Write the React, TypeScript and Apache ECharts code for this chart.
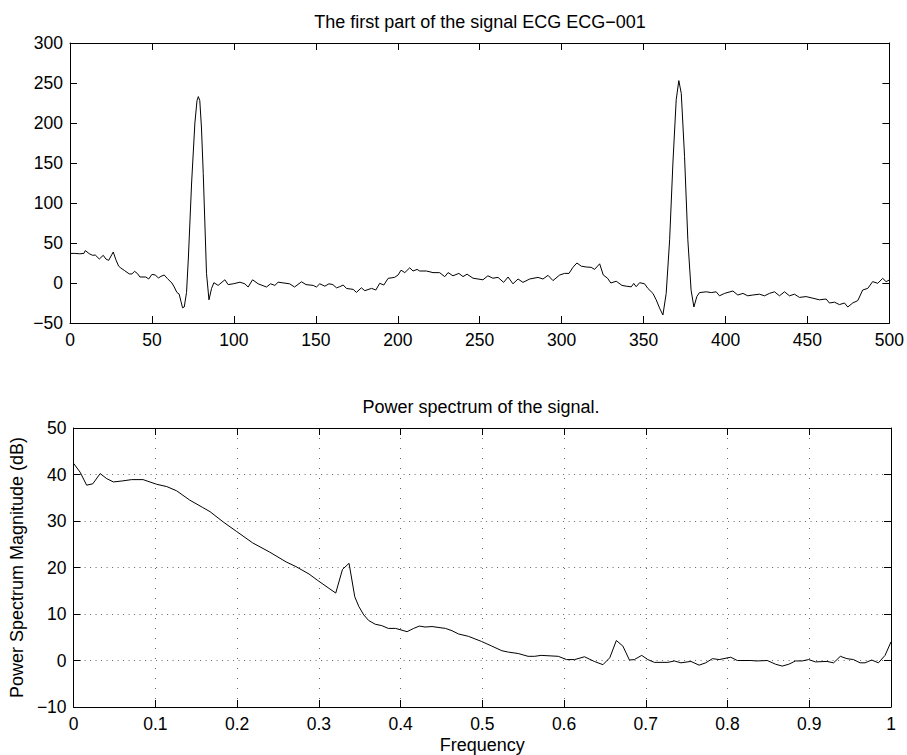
import React, { useEffect, useRef } from "react";
import * as echarts from "echarts";

// ---- Top plot: first part of ECG signal (sample index, amplitude) ----
const sigT = [
  0, 3, 6, 8.5, 9.3, 11.8, 13.8, 15.4, 17.9, 20.3, 21.9, 23.6, 26.4, 28, 29.7, 31, 33.1, 36.2, 37.8, 39.4,
  41.2, 42.7, 46.3, 48, 50, 52, 54, 55.5, 57.5, 59.5, 62.2, 63.6, 65.2, 66.6, 67.7, 68.7, 69.7, 71.1, 72.2, 74.2,
  76.2, 77.5, 78.3, 79.2, 80.2, 81.3, 83.3, 84.8, 86.4, 87.8, 90.4, 94.5, 96.5, 99.6, 103.7, 106.7, 108.7, 111.4, 114.8, 119.9,
  122.4, 125, 127, 134, 137, 141.3, 144, 148.4, 150.4, 152.4, 155.5, 158, 160.4, 162.6, 164.6, 166.7, 168.7, 172.8, 174.8, 177.8,
  179.9, 184, 186.6, 189, 191.5, 194.1, 198, 200.2, 202, 204.3, 207.3, 209.3, 211.8, 213.4, 217.5, 221.5, 225.6, 228.7, 230.7, 233.7,
  237.3, 239.8, 242.3, 245.9, 249, 252, 255, 258, 261.2, 264.6, 267.3, 270.3, 273.4, 276.4, 280.5, 285.6, 288.6, 291.7, 294.7, 298.8,
  301.8, 304.5, 306.9, 309.3, 312, 315, 318, 320.1, 323.2, 325.4, 328, 330, 333.3, 336.8, 339.4, 342.5, 344, 345.5, 347.6, 350.6,
  352.6, 355.7, 357.7, 359.8, 361.8, 363.8, 365.9, 367.9, 369.9, 371.5, 373, 375, 377, 379, 380.7, 382.5, 384.1, 388.2, 391.3, 394.3,
  396.3, 399.4, 404.5, 407.5, 410.6, 413.6, 416.7, 420.7, 423.8, 426.8, 429.9, 432.9, 436, 439, 442.1, 445.1, 449.2, 453.3, 457.3, 461.4,
  463.4, 466.5, 469.5, 472.6, 474.6, 477.6, 480.7, 483.7, 486.8, 489.8, 492.9, 495.9, 498, 500,
];
const sigV = [
  37, 37, 36.5, 37, 40.5, 36.6, 34.6, 35, 30, 34.6, 30, 28.3, 38.8, 29, 21, 18.8, 15.8, 11.3, 11.3, 14.6,
  11.7, 7.5, 7.5, 5, 10.8, 10, 6.3, 8.3, 10, 5.4, 0, -5, -11.7, -13.8, -22.9, -31, -30, -12, 30, 125,
  200, 228, 233, 228, 195, 137, 12, -21, -6.7, 0.4, -3, 4, -2, -1, 1, -1, -5, 4, -1, -5,
  -1, -3, 1, -1, -5, 1.5, -2, -3, -5, -1, -4, -1, -2, -6, -4.6, -2.5, -6.8, -8, -11.7, -6,
  -9.6, -6.7, -8.75, -0.4, -2.5, 5.8, 7, 10, 16, 13, 19, 15, 17, 15, 15, 13, 12.9, 7.9, 13, 9,
  12, 8, 11, 6, 5, 4, 9, 6, 7, 0.8, 7.5, -1, 5, 0.8, 5, 7, 5, 9.6, 3, 10,
  12, 12, 19.6, 25, 21, 20, 19.6, 17, 24, 10, 6, 0, 2.2, -3, -4, -4.8, -0.5, -4.6, 0.4, -1,
  -6.7, -13, -21, -31.6, -40, -13, 54, 150, 229, 253, 237, 158, 54, -9, -30, -17, -12, -11, -12, -11,
  -16, -13, -10, -15, -13, -16, -15, -14, -16, -13, -11, -16, -11, -16, -14, -18, -17, -19, -21, -20,
  -25, -24, -27, -25, -30, -25, -22, -8.75, -6.7, 1.7, -0.4, 5.8, 1.7, 3.8,
];

// ---- Bottom plot: power spectrum (normalized frequency, dB) ----
const freq = [
  0, 0.008, 0.016, 0.0235, 0.0325, 0.0406, 0.0487, 0.059, 0.071, 0.085, 0.1015, 0.114, 0.126, 0.142, 0.158, 0.167, 0.183, 0.199, 0.219, 0.24,
  0.26, 0.272, 0.288, 0.298, 0.3207, 0.329, 0.337, 0.344, 0.349, 0.355, 0.361, 0.369, 0.377, 0.385, 0.394, 0.408, 0.416, 0.423, 0.43, 0.4385,
  0.455, 0.463, 0.471, 0.483, 0.499, 0.5116, 0.524, 0.532, 0.544, 0.556, 0.564, 0.572, 0.593, 0.603, 0.613, 0.625, 0.637, 0.6476, 0.656, 0.664,
  0.672, 0.68, 0.686, 0.695, 0.7025, 0.7105, 0.727, 0.735, 0.743, 0.7552, 0.7653, 0.7734, 0.7816, 0.7897, 0.8039, 0.812, 0.828, 0.836, 0.8486, 0.8588,
  0.8669, 0.875, 0.8831, 0.8912, 0.8993, 0.9075, 0.9217, 0.9298, 0.938, 0.946, 0.954, 0.9622, 0.9683, 0.9764, 0.9846, 0.9927, 1,
];
const powerDb = [
  42.4, 40.5, 37.7, 38, 40.2, 39.1, 38.4, 38.6, 38.9, 38.9, 37.9, 37.4, 36.5, 34.5, 32.9, 32, 29.8, 27.8, 25.3, 23.3,
  21.2, 20.2, 18.6, 17.3, 14.5, 19.6, 20.9, 13.7, 11.6, 9.8, 8.6, 7.8, 7.5, 6.9, 6.9, 6.2, 6.9, 7.4, 7.2, 7.3,
  6.9, 6.4, 5.7, 5.2, 4.1, 3.1, 2.1, 1.8, 1.5, 0.9, 0.9, 1.1, 0.9, 0.2, 0.2, 0.8, -0.2, -0.9, 0.6, 4.3,
  3.1, 0.1, 0.2, 1.1, 0.2, -0.4, -0.4, -0.1, -0.5, -0.2, -1, -0.5, 0.4, 0.2, 0.7, 0, 0, -0.1, 0, -0.8,
  -1.2, -0.8, -0.1, -0.1, 0.2, -0.3, -0.2, -0.5, 0.9, 0.4, 0.2, -0.5, -0.5, 0.1, -0.5, 1.1, 4,
];

const topTitle = "The first part of the signal ECG ECG\u2212001";
const bottomTitle = "Power spectrum of the signal.";
const xName = "Frequency";
const yName = "Power Spectrum Magnitude (dB)";

const FONT = "'Liberation Sans', Arial, Helvetica, sans-serif";
const TICK_FS = 17.5;
const TITLE_FS = 18;

const fmtNum = (v: number) => {
  const s = String(Math.round(v * 1000) / 1000);
  return s.replace("-", "\u2212");
};

function App() {
  const ref = useRef<HTMLDivElement>(null);

  useEffect(() => {
    if (!ref.current) return;
    const chart = echarts.init(ref.current, undefined, { renderer: "svg" });

    const line = { show: true, onZero: false, lineStyle: { color: "#000", width: 1 } };
    const tick = { show: true, inside: true, length: 7, lineStyle: { color: "#000", width: 1 } };
    const label = { show: true, color: "#000", fontSize: TICK_FS, fontFamily: FONT, formatter: fmtNum };
    const noLabel = { show: false };

    const xAxes: any[] = [
      { gridIndex: 0, type: "value", min: 0, max: 500, interval: 50, position: "bottom",
        axisLine: line, axisTick: tick, axisLabel: { ...label, margin: 8 }, splitLine: { show: false } },
      { gridIndex: 0, type: "value", min: 0, max: 500, interval: 50, position: "top",
        axisLine: line, axisTick: tick, axisLabel: noLabel, splitLine: { show: false } },
      { gridIndex: 1, type: "value", min: 0, max: 1, interval: 0.1, position: "bottom",
        axisLine: line, axisTick: tick, axisLabel: { ...label, margin: 8 },
        splitLine: { show: true, lineStyle: { color: "#666", width: 1, type: [1, 9] } },
        name: xName, nameLocation: "middle", nameGap: 29,
        nameTextStyle: { color: "#000", fontSize: TITLE_FS, fontFamily: FONT } },
      { gridIndex: 1, type: "value", min: 0, max: 1, interval: 0.1, position: "top",
        axisLine: line, axisTick: tick, axisLabel: noLabel, splitLine: { show: false } },
    ];
    const yAxes: any[] = [
      { gridIndex: 0, type: "value", min: -50, max: 300, interval: 50, position: "left",
        axisLine: line, axisTick: tick, axisLabel: { ...label, margin: 7 }, splitLine: { show: false } },
      { gridIndex: 0, type: "value", min: -50, max: 300, interval: 50, position: "right",
        axisLine: line, axisTick: tick, axisLabel: noLabel, splitLine: { show: false } },
      { gridIndex: 1, type: "value", min: -10, max: 50, interval: 10, position: "left",
        axisLine: line, axisTick: tick, axisLabel: { ...label, margin: 7 },
        splitLine: { show: true, lineStyle: { color: "#666", width: 1, type: [1, 4.5] } },
        name: yName, nameLocation: "middle", nameGap: 37,
        nameTextStyle: { color: "#000", fontSize: TITLE_FS, fontFamily: FONT } },
      { gridIndex: 1, type: "value", min: -10, max: 50, interval: 10, position: "right",
        axisLine: line, axisTick: tick, axisLabel: noLabel, splitLine: { show: false } },
    ];

    chart.setOption({
      animation: false,
      backgroundColor: "#fff",
      grid: [
        { left: 70, top: 43, width: 821, height: 280, containLabel: false },
        { left: 70, top: 428, width: 821, height: 280, containLabel: false },
      ],
      xAxis: xAxes,
      yAxis: yAxes,
      graphic: [
        { type: "text", x: 480, y: 22, style: { text: topTitle, fill: "#000", font: `${TITLE_FS}px ${FONT}`, textAlign: "center", textVerticalAlign: "middle" } },
        { type: "text", x: 481, y: 407, style: { text: bottomTitle, fill: "#000", font: `${TITLE_FS}px ${FONT}`, textAlign: "center", textVerticalAlign: "middle" } },
      ],
      series: [
        { type: "line", xAxisIndex: 0, yAxisIndex: 0, showSymbol: false, symbol: "none",
          lineStyle: { color: "#000", width: 1 }, data: sigT.map((t, i) => [t, sigV[i]]) },
        { type: "line", xAxisIndex: 2, yAxisIndex: 2, showSymbol: false, symbol: "none",
          lineStyle: { color: "#000", width: 1 }, data: freq.map((f, i) => [f, powerDb[i]]) },
      ],
    });

    return () => chart.dispose();
  }, []);

  return (
    <div
      ref={ref}
      style={{ position: "fixed", left: 0, top: 0, width: 907, height: 755, background: "#fff" }}
    />
  );
}

export default App;
